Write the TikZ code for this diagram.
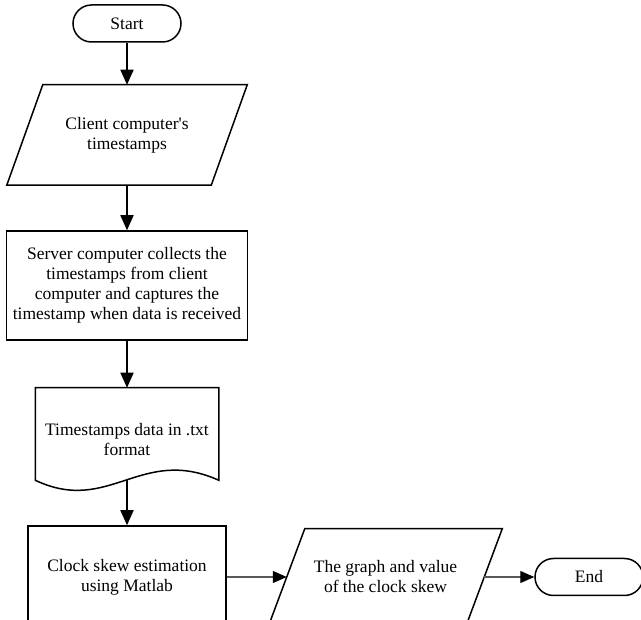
\documentclass[tikz,border=0pt]{standalone}
\usepackage{fontspec}
\setmainfont{Liberation Serif}
\usetikzlibrary{arrows.meta, positioning, calc}
\tikzset{
    box/.style={rectangle, draw, line width=1.5pt, align=center, inner sep=0pt,
                font=\fontsize{17.5}{20}\selectfont},
    terminal/.style={box, rounded corners=18.5pt, minimum width=108pt, minimum height=37pt},
    process/.style={box},
    io/.style={box, draw=none},
    docshape/.style={box, draw=none},
    outline/.style={line width=1.5pt, line join=miter},
    flow/.style={-{Triangle[length=15pt, width=13pt]}, line width=1.8pt},
    sideflow/.style={-{Triangle[length=14pt, width=12pt, color=black]}, line width=1.2pt, black!65},
}
\begin{document}
\begin{tikzpicture}[x=1pt, y=-1pt]
    \useasboundingbox (0,0) rectangle (641,620);
    \node[terminal] (start) at (127,23.5) {Start};
    \node[io, minimum width=203pt, minimum height=99pt, below=42pt of start] (client)
        {Client computer\textquotesingle s\\timestamps};
    \node[process, minimum width=241pt, minimum height=109pt, below=45pt of client] (server)
        {Server computer collects the\\timestamps from client\\computer and captures the\\timestamp when data is received};
    \node[docshape, minimum width=182pt, minimum height=102pt, below=47pt of server] (data)
        {Timestamps data in .txt\\format};
    \coordinate (datawave) at ($(data.south)+(0,-11)$);
    \node[process, minimum width=198pt, minimum height=102pt, below=34pt of data] (clock)
        {Clock skew estimation\\using Matlab};
    \node[io, minimum width=196pt, minimum height=95pt, right=60pt of clock] (graph)
        {The graph and value\\of the clock skew};
    \node[terminal, right=50pt of graph] (end) {End};
    % parallelograms (input / output)
    \draw[outline] ($(client.south west)+(-18,0)$) -- ($(client.south east)+(-18,0)$)
        -- ($(client.north east)+(18,0)$) -- ($(client.north west)+(18,0)$) -- cycle;
    \draw[outline] ($(graph.south west)+(-18,0)$) -- ($(graph.south east)+(-18,0)$)
        -- ($(graph.north east)+(18,0)$) -- ($(graph.north west)+(18,0)$) -- cycle;
    % document outline with wavy bottom
    \draw[outline] (data.north west) -- (data.north east)
        -- ($(data.south east)+(0,-11)$)
        .. controls +(-78,-35) and +(74,35) .. ($(data.south west)+(0,-11)$) -- cycle;
    % main flow
    \draw[flow] (start) -- (client);
    \draw[flow] (client) -- (server);
    \draw[flow] (server) -- (data);
    \draw[flow] (datawave) -- (clock);
    \draw[sideflow] (clock) -- (graph);
    \draw[sideflow] (graph) -- (end);
\end{tikzpicture}
\end{document}
